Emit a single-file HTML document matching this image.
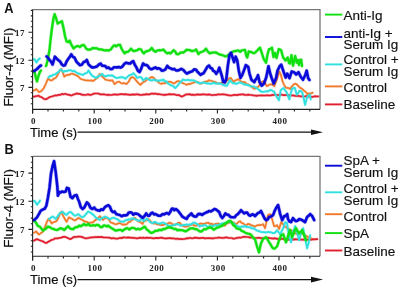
<!DOCTYPE html>
<html><head><meta charset="utf-8"><style>
html,body{margin:0;padding:0;background:#fff;width:400px;height:289px;overflow:hidden}
svg{display:block;filter:blur(0.4px)}
text{font-family:"Liberation Sans",sans-serif;fill:#111}
.tl{font-family:"Liberation Serif",serif;font-size:9px;font-weight:bold;fill:#222;letter-spacing:0.5px}
.pl{font-size:14px;font-weight:bold}
.al{font-size:13px;stroke:#111;stroke-width:0.2px}
.lg{font-size:13.5px;stroke:#111;stroke-width:0.15px}
</style></head><body>
<svg width="400" height="289" viewBox="0 0 400 289">
<rect width="400" height="289" fill="#fff"/>
<path d="M32.6 9.6H320.0V109.4" fill="none" stroke="#777" stroke-width="1.3"/>
<path d="M33.5 96.7 L35.2 96.4 L36.9 96.0 L38.6 95.7 L40.2 96.7 L41.9 97.3 L43.6 98.7 L45.2 99.3 L46.7 98.9 L48.1 98.1 L49.5 97.1 L51.0 96.7 L52.5 96.3 L54.0 95.8 L55.6 95.4 L57.1 95.5 L58.6 94.8 L60.2 94.9 L61.9 93.9 L63.6 94.3 L65.2 93.8 L66.7 94.3 L68.1 94.6 L69.5 94.9 L71.0 95.5 L72.4 95.1 L73.8 94.4 L75.3 94.1 L76.7 93.4 L78.3 93.9 L80.0 93.8 L81.7 94.7 L83.3 94.8 L84.9 95.0 L86.5 94.8 L88.1 94.2 L89.7 95.0 L91.5 94.7 L93.2 93.9 L95.0 93.5 L96.7 93.5 L98.5 93.5 L100.3 94.4 L102.1 94.3 L103.7 94.3 L105.2 94.5 L106.8 95.0 L108.3 94.7 L109.9 95.0 L111.5 94.9 L113.0 94.7 L114.6 94.3 L116.2 94.6 L117.7 94.7 L119.3 94.3 L120.8 94.1 L122.4 94.2 L123.9 94.4 L125.5 94.1 L127.0 94.5 L128.6 94.6 L130.2 94.8 L131.7 94.6 L133.3 94.4 L134.8 94.6 L136.4 94.3 L138.2 94.4 L140.0 95.0 L141.6 94.9 L143.1 94.6 L144.7 94.7 L146.2 94.1 L147.8 94.3 L149.4 94.4 L150.9 93.7 L152.5 93.6 L154.0 93.9 L155.6 93.5 L157.2 94.2 L158.7 94.0 L160.3 94.3 L161.8 94.5 L163.4 95.0 L165.0 94.7 L166.5 94.8 L168.1 94.3 L169.6 94.1 L171.2 94.3 L172.7 94.4 L174.3 94.3 L175.8 94.8 L177.4 95.1 L178.9 95.0 L180.4 96.0 L182.0 96.6 L183.6 95.8 L185.1 94.9 L186.7 94.3 L188.3 94.4 L189.8 94.2 L191.4 94.9 L192.9 94.7 L194.5 95.0 L196.1 94.7 L197.8 94.4 L199.4 94.6 L201.0 94.6 L202.7 94.3 L204.3 94.3 L205.9 94.7 L207.4 94.7 L209.0 94.4 L210.6 94.8 L212.1 95.2 L213.7 95.0 L215.2 94.9 L216.8 94.8 L218.3 94.3 L219.9 94.5 L221.4 94.4 L223.0 94.3 L224.6 94.5 L226.1 94.7 L227.7 95.1 L229.2 95.3 L230.8 95.5 L232.4 95.3 L233.9 94.9 L235.5 94.9 L237.0 95.2 L238.6 94.6 L240.2 94.6 L241.7 94.4 L243.3 94.4 L244.8 94.9 L246.4 95.0 L248.1 94.7 L249.8 94.9 L251.6 95.0 L253.3 95.4 L255.0 95.5 L256.7 95.9 L258.3 95.5 L260.0 95.5 L261.7 95.4 L263.3 95.5 L265.0 95.5 L266.7 95.3 L268.3 95.4 L270.0 95.5 L271.7 95.2 L273.3 94.9 L275.0 94.8 L276.7 95.0 L278.3 95.2 L280.0 94.6 L281.7 94.7 L283.3 95.1 L285.0 95.1 L286.7 95.1 L288.3 95.1 L290.0 95.1 L291.7 95.5 L293.3 95.4 L295.0 95.8 L296.7 96.0 L298.3 95.8 L300.0 96.3 L301.7 96.3 L303.3 96.6 L305.0 96.4 L306.6 96.0 L308.3 96.7 L309.9 96.6 L311.6 96.8 L313.2 96.8 L314.9 96.2 L316.6 96.5 L318.2 96.4" fill="none" stroke="#e01e2e" stroke-opacity="0.3" stroke-width="2.9" stroke-linejoin="round" stroke-linecap="round"/><path d="M33.5 96.7 L35.2 96.4 L36.9 96.0 L38.6 95.7 L40.2 96.7 L41.9 97.3 L43.6 98.7 L45.2 99.3 L46.7 98.9 L48.1 98.1 L49.5 97.1 L51.0 96.7 L52.5 96.3 L54.0 95.8 L55.6 95.4 L57.1 95.5 L58.6 94.8 L60.2 94.9 L61.9 93.9 L63.6 94.3 L65.2 93.8 L66.7 94.3 L68.1 94.6 L69.5 94.9 L71.0 95.5 L72.4 95.1 L73.8 94.4 L75.3 94.1 L76.7 93.4 L78.3 93.9 L80.0 93.8 L81.7 94.7 L83.3 94.8 L84.9 95.0 L86.5 94.8 L88.1 94.2 L89.7 95.0 L91.5 94.7 L93.2 93.9 L95.0 93.5 L96.7 93.5 L98.5 93.5 L100.3 94.4 L102.1 94.3 L103.7 94.3 L105.2 94.5 L106.8 95.0 L108.3 94.7 L109.9 95.0 L111.5 94.9 L113.0 94.7 L114.6 94.3 L116.2 94.6 L117.7 94.7 L119.3 94.3 L120.8 94.1 L122.4 94.2 L123.9 94.4 L125.5 94.1 L127.0 94.5 L128.6 94.6 L130.2 94.8 L131.7 94.6 L133.3 94.4 L134.8 94.6 L136.4 94.3 L138.2 94.4 L140.0 95.0 L141.6 94.9 L143.1 94.6 L144.7 94.7 L146.2 94.1 L147.8 94.3 L149.4 94.4 L150.9 93.7 L152.5 93.6 L154.0 93.9 L155.6 93.5 L157.2 94.2 L158.7 94.0 L160.3 94.3 L161.8 94.5 L163.4 95.0 L165.0 94.7 L166.5 94.8 L168.1 94.3 L169.6 94.1 L171.2 94.3 L172.7 94.4 L174.3 94.3 L175.8 94.8 L177.4 95.1 L178.9 95.0 L180.4 96.0 L182.0 96.6 L183.6 95.8 L185.1 94.9 L186.7 94.3 L188.3 94.4 L189.8 94.2 L191.4 94.9 L192.9 94.7 L194.5 95.0 L196.1 94.7 L197.8 94.4 L199.4 94.6 L201.0 94.6 L202.7 94.3 L204.3 94.3 L205.9 94.7 L207.4 94.7 L209.0 94.4 L210.6 94.8 L212.1 95.2 L213.7 95.0 L215.2 94.9 L216.8 94.8 L218.3 94.3 L219.9 94.5 L221.4 94.4 L223.0 94.3 L224.6 94.5 L226.1 94.7 L227.7 95.1 L229.2 95.3 L230.8 95.5 L232.4 95.3 L233.9 94.9 L235.5 94.9 L237.0 95.2 L238.6 94.6 L240.2 94.6 L241.7 94.4 L243.3 94.4 L244.8 94.9 L246.4 95.0 L248.1 94.7 L249.8 94.9 L251.6 95.0 L253.3 95.4 L255.0 95.5 L256.7 95.9 L258.3 95.5 L260.0 95.5 L261.7 95.4 L263.3 95.5 L265.0 95.5 L266.7 95.3 L268.3 95.4 L270.0 95.5 L271.7 95.2 L273.3 94.9 L275.0 94.8 L276.7 95.0 L278.3 95.2 L280.0 94.6 L281.7 94.7 L283.3 95.1 L285.0 95.1 L286.7 95.1 L288.3 95.1 L290.0 95.1 L291.7 95.5 L293.3 95.4 L295.0 95.8 L296.7 96.0 L298.3 95.8 L300.0 96.3 L301.7 96.3 L303.3 96.6 L305.0 96.4 L306.6 96.0 L308.3 96.7 L309.9 96.6 L311.6 96.8 L313.2 96.8 L314.9 96.2 L316.6 96.5 L318.2 96.4" fill="none" stroke="#e01e2e" stroke-width="1.7" stroke-linejoin="round" stroke-linecap="round"/>
<path d="M33.5 90.5 L34.9 90.3 L36.2 89.0 L37.8 90.8 L39.3 92.1 L40.9 91.3 L42.5 89.8 L44.0 87.7 L45.6 84.5 L46.9 81.2 L48.1 78.6 L49.5 79.7 L51.0 80.5 L52.4 80.1 L53.8 78.6 L55.2 78.2 L56.7 76.7 L58.1 74.0 L59.5 71.0 L61.4 69.0 L62.8 72.4 L64.3 76.7 L65.7 75.6 L67.1 74.8 L69.0 75.0 L71.0 73.8 L72.9 73.7 L74.8 74.8 L76.7 75.5 L78.6 76.7 L80.5 78.7 L82.4 79.5 L84.3 79.9 L86.2 80.5 L87.8 80.2 L89.5 80.8 L91.1 80.3 L92.7 81.0 L94.3 80.2 L95.9 78.8 L97.5 77.9 L99.8 74.0 L102.1 76.4 L103.7 77.8 L105.2 79.5 L106.8 80.0 L108.4 80.2 L110.3 80.6 L112.3 80.2 L114.6 84.1 L116.2 82.9 L117.7 81.8 L119.3 81.7 L120.8 83.0 L122.4 83.4 L124.3 83.1 L126.3 84.1 L128.6 81.8 L130.1 78.9 L131.7 77.1 L133.2 77.5 L134.8 78.7 L136.4 80.9 L138.0 82.6 L140.3 84.9 L142.6 82.6 L143.8 81.7 L145.0 81.5 L147.0 79.5 L148.8 79.0 L150.7 77.4 L152.5 77.1 L154.1 78.1 L155.6 80.2 L157.1 80.6 L158.7 82.6 L160.2 83.4 L161.8 83.9 L163.3 83.0 L164.9 83.4 L166.7 82.5 L168.6 81.7 L170.4 81.8 L172.4 82.8 L174.3 83.4 L175.8 82.3 L177.4 81.3 L178.9 81.0 L180.5 82.0 L182.0 82.7 L183.6 83.4 L185.1 84.1 L186.7 84.9 L188.3 83.9 L189.8 84.1 L191.4 83.4 L193.0 82.9 L194.5 82.2 L196.1 81.8 L197.9 82.1 L199.7 83.4 L201.2 83.5 L202.8 82.8 L204.3 81.8 L205.9 81.5 L207.4 81.4 L209.0 80.2 L210.6 80.8 L212.1 81.0 L213.7 81.8 L215.3 81.8 L216.8 83.0 L218.4 83.4 L219.9 83.2 L221.5 82.8 L223.0 82.6 L224.6 82.5 L226.1 81.5 L227.7 80.2 L229.2 78.5 L230.8 77.9 L232.4 80.4 L233.9 81.8 L235.3 80.2 L236.6 80.2 L238.0 79.1 L239.5 80.0 L241.0 81.5 L242.8 82.1 L244.7 82.1 L246.5 83.9 L248.3 84.5 L250.2 85.8 L252.0 87.0 L253.5 88.3 L255.0 88.8 L256.5 87.3 L258.0 87.0 L259.9 84.8 L261.7 82.1 L262.9 81.3 L264.1 81.5 L265.5 83.8 L266.8 86.2 L268.7 85.0 L270.6 84.3 L272.5 84.7 L274.3 86.2 L276.1 81.4 L278.0 76.0 L279.3 71.5 L280.8 74.5 L282.7 82.0 L285.0 86.5 L286.4 88.0 L288.3 87.9 L290.2 89.0 L292.0 86.3 L293.9 84.3 L295.3 83.7 L296.7 84.3 L298.6 86.4 L300.5 88.0 L302.4 89.1 L304.2 90.8 L306.0 92.1 L307.9 94.6 L309.3 93.4 L310.7 93.6 L312.6 92.7" fill="none" stroke="#f07828" stroke-opacity="0.3" stroke-width="2.8" stroke-linejoin="round" stroke-linecap="round"/><path d="M33.5 90.5 L34.9 90.3 L36.2 89.0 L37.8 90.8 L39.3 92.1 L40.9 91.3 L42.5 89.8 L44.0 87.7 L45.6 84.5 L46.9 81.2 L48.1 78.6 L49.5 79.7 L51.0 80.5 L52.4 80.1 L53.8 78.6 L55.2 78.2 L56.7 76.7 L58.1 74.0 L59.5 71.0 L61.4 69.0 L62.8 72.4 L64.3 76.7 L65.7 75.6 L67.1 74.8 L69.0 75.0 L71.0 73.8 L72.9 73.7 L74.8 74.8 L76.7 75.5 L78.6 76.7 L80.5 78.7 L82.4 79.5 L84.3 79.9 L86.2 80.5 L87.8 80.2 L89.5 80.8 L91.1 80.3 L92.7 81.0 L94.3 80.2 L95.9 78.8 L97.5 77.9 L99.8 74.0 L102.1 76.4 L103.7 77.8 L105.2 79.5 L106.8 80.0 L108.4 80.2 L110.3 80.6 L112.3 80.2 L114.6 84.1 L116.2 82.9 L117.7 81.8 L119.3 81.7 L120.8 83.0 L122.4 83.4 L124.3 83.1 L126.3 84.1 L128.6 81.8 L130.1 78.9 L131.7 77.1 L133.2 77.5 L134.8 78.7 L136.4 80.9 L138.0 82.6 L140.3 84.9 L142.6 82.6 L143.8 81.7 L145.0 81.5 L147.0 79.5 L148.8 79.0 L150.7 77.4 L152.5 77.1 L154.1 78.1 L155.6 80.2 L157.1 80.6 L158.7 82.6 L160.2 83.4 L161.8 83.9 L163.3 83.0 L164.9 83.4 L166.7 82.5 L168.6 81.7 L170.4 81.8 L172.4 82.8 L174.3 83.4 L175.8 82.3 L177.4 81.3 L178.9 81.0 L180.5 82.0 L182.0 82.7 L183.6 83.4 L185.1 84.1 L186.7 84.9 L188.3 83.9 L189.8 84.1 L191.4 83.4 L193.0 82.9 L194.5 82.2 L196.1 81.8 L197.9 82.1 L199.7 83.4 L201.2 83.5 L202.8 82.8 L204.3 81.8 L205.9 81.5 L207.4 81.4 L209.0 80.2 L210.6 80.8 L212.1 81.0 L213.7 81.8 L215.3 81.8 L216.8 83.0 L218.4 83.4 L219.9 83.2 L221.5 82.8 L223.0 82.6 L224.6 82.5 L226.1 81.5 L227.7 80.2 L229.2 78.5 L230.8 77.9 L232.4 80.4 L233.9 81.8 L235.3 80.2 L236.6 80.2 L238.0 79.1 L239.5 80.0 L241.0 81.5 L242.8 82.1 L244.7 82.1 L246.5 83.9 L248.3 84.5 L250.2 85.8 L252.0 87.0 L253.5 88.3 L255.0 88.8 L256.5 87.3 L258.0 87.0 L259.9 84.8 L261.7 82.1 L262.9 81.3 L264.1 81.5 L265.5 83.8 L266.8 86.2 L268.7 85.0 L270.6 84.3 L272.5 84.7 L274.3 86.2 L276.1 81.4 L278.0 76.0 L279.3 71.5 L280.8 74.5 L282.7 82.0 L285.0 86.5 L286.4 88.0 L288.3 87.9 L290.2 89.0 L292.0 86.3 L293.9 84.3 L295.3 83.7 L296.7 84.3 L298.6 86.4 L300.5 88.0 L302.4 89.1 L304.2 90.8 L306.0 92.1 L307.9 94.6 L309.3 93.4 L310.7 93.6 L312.6 92.7" fill="none" stroke="#f07828" stroke-width="1.6" stroke-linejoin="round" stroke-linecap="round"/>
<path d="M34.0 59.0 L35.0 60.0 L36.5 62.5 L38.0 60.0 L39.8 58.5M48.5 77.5 L50.0 76.0 L51.5 76.0 L53.2 74.7 L54.9 74.6 L56.5 73.3 L58.0 72.3 L59.2 71.2 L60.5 69.5 L61.9 70.2 L63.3 71.9 L65.2 70.9 L67.1 71.0 L69.0 70.2 L71.0 70.3 L72.6 71.2 L74.1 70.8 L75.7 71.9 L77.6 73.2 L79.5 73.8 L81.4 74.5 L83.3 74.8 L85.2 73.3 L87.1 72.9 L88.5 70.5 L90.2 73.1 L92.0 75.6 L94.0 76.7 L95.9 77.9 L97.8 76.6 L99.8 75.6 L102.1 74.0 L104.0 75.9 L106.0 76.4 L108.0 75.4 L109.9 75.6 L111.8 75.3 L113.8 76.4 L115.8 77.8 L117.7 77.9 L119.7 77.4 L121.6 77.1 L123.5 77.4 L125.5 78.7 L127.1 77.1 L128.6 75.9 L130.2 74.8 L131.8 74.7 L133.3 73.2 L135.2 75.1 L137.2 77.9 L139.1 77.1 L141.1 77.1 L143.1 80.2 L144.6 79.2 L146.2 77.9 L148.1 79.1 L150.1 80.2 L152.1 80.5 L154.0 79.5 L155.6 80.5 L157.1 80.3 L158.7 81.0 L160.3 80.1 L161.8 80.5 L163.4 79.5 L164.9 81.5 L166.5 81.4 L168.0 83.4 L169.6 84.5 L171.1 85.5 L172.7 85.7 L175.0 88.0 L176.6 86.7 L178.2 84.9 L179.7 82.7 L181.3 81.7 L182.8 79.5 L184.8 80.2 L186.7 80.2 L188.3 79.7 L189.8 80.4 L191.4 80.2 L193.0 80.3 L194.5 80.6 L196.1 81.8 L197.9 82.4 L199.7 83.4 L201.2 82.9 L202.8 82.7 L204.3 82.6 L205.9 83.1 L207.4 83.6 L209.0 83.4 L210.6 83.8 L212.1 83.6 L213.7 82.6 L215.3 83.6 L216.8 83.6 L218.4 83.4 L219.9 83.6 L221.5 83.9 L223.0 84.9 L224.9 85.5 L226.9 85.7 L228.4 83.0 L230.0 80.2 L231.6 82.1 L233.2 83.4 L234.8 83.1 L236.3 84.0 L238.6 82.7 L240.4 82.5 L242.3 83.3 L244.1 84.5 L245.9 84.5 L247.1 85.0 L248.3 85.2 L250.2 86.1 L252.0 86.4 L253.8 86.4 L255.6 87.6 L257.4 88.6 L259.2 90.0 L261.0 91.5 L262.9 91.8 L264.7 91.7 L266.5 91.2 L268.4 91.3 L270.2 90.0 L271.6 90.1 L272.9 91.1 L274.3 91.8 L275.7 95.1 L277.1 97.4 L279.0 100.2 L280.8 89.9 L282.2 88.9 L283.6 88.0 L285.0 90.3 L286.4 91.8 L287.9 95.6 L289.3 99.3 L290.7 93.6 L292.1 89.0 L293.5 87.9 L294.9 88.0 L296.7 94.6 L298.1 93.4 L299.5 90.8 L300.9 91.2 L302.3 92.7 L303.7 98.3 L305.1 104.9 L307.0 97.4 L308.4 95.8 L309.8 94.6 L310.7 99.3" fill="none" stroke="#30e0e0" stroke-opacity="0.3" stroke-width="3.0" stroke-linejoin="round" stroke-linecap="round"/><path d="M34.0 59.0 L35.0 60.0 L36.5 62.5 L38.0 60.0 L39.8 58.5M48.5 77.5 L50.0 76.0 L51.5 76.0 L53.2 74.7 L54.9 74.6 L56.5 73.3 L58.0 72.3 L59.2 71.2 L60.5 69.5 L61.9 70.2 L63.3 71.9 L65.2 70.9 L67.1 71.0 L69.0 70.2 L71.0 70.3 L72.6 71.2 L74.1 70.8 L75.7 71.9 L77.6 73.2 L79.5 73.8 L81.4 74.5 L83.3 74.8 L85.2 73.3 L87.1 72.9 L88.5 70.5 L90.2 73.1 L92.0 75.6 L94.0 76.7 L95.9 77.9 L97.8 76.6 L99.8 75.6 L102.1 74.0 L104.0 75.9 L106.0 76.4 L108.0 75.4 L109.9 75.6 L111.8 75.3 L113.8 76.4 L115.8 77.8 L117.7 77.9 L119.7 77.4 L121.6 77.1 L123.5 77.4 L125.5 78.7 L127.1 77.1 L128.6 75.9 L130.2 74.8 L131.8 74.7 L133.3 73.2 L135.2 75.1 L137.2 77.9 L139.1 77.1 L141.1 77.1 L143.1 80.2 L144.6 79.2 L146.2 77.9 L148.1 79.1 L150.1 80.2 L152.1 80.5 L154.0 79.5 L155.6 80.5 L157.1 80.3 L158.7 81.0 L160.3 80.1 L161.8 80.5 L163.4 79.5 L164.9 81.5 L166.5 81.4 L168.0 83.4 L169.6 84.5 L171.1 85.5 L172.7 85.7 L175.0 88.0 L176.6 86.7 L178.2 84.9 L179.7 82.7 L181.3 81.7 L182.8 79.5 L184.8 80.2 L186.7 80.2 L188.3 79.7 L189.8 80.4 L191.4 80.2 L193.0 80.3 L194.5 80.6 L196.1 81.8 L197.9 82.4 L199.7 83.4 L201.2 82.9 L202.8 82.7 L204.3 82.6 L205.9 83.1 L207.4 83.6 L209.0 83.4 L210.6 83.8 L212.1 83.6 L213.7 82.6 L215.3 83.6 L216.8 83.6 L218.4 83.4 L219.9 83.6 L221.5 83.9 L223.0 84.9 L224.9 85.5 L226.9 85.7 L228.4 83.0 L230.0 80.2 L231.6 82.1 L233.2 83.4 L234.8 83.1 L236.3 84.0 L238.6 82.7 L240.4 82.5 L242.3 83.3 L244.1 84.5 L245.9 84.5 L247.1 85.0 L248.3 85.2 L250.2 86.1 L252.0 86.4 L253.8 86.4 L255.6 87.6 L257.4 88.6 L259.2 90.0 L261.0 91.5 L262.9 91.8 L264.7 91.7 L266.5 91.2 L268.4 91.3 L270.2 90.0 L271.6 90.1 L272.9 91.1 L274.3 91.8 L275.7 95.1 L277.1 97.4 L279.0 100.2 L280.8 89.9 L282.2 88.9 L283.6 88.0 L285.0 90.3 L286.4 91.8 L287.9 95.6 L289.3 99.3 L290.7 93.6 L292.1 89.0 L293.5 87.9 L294.9 88.0 L296.7 94.6 L298.1 93.4 L299.5 90.8 L300.9 91.2 L302.3 92.7 L303.7 98.3 L305.1 104.9 L307.0 97.4 L308.4 95.8 L309.8 94.6 L310.7 99.3" fill="none" stroke="#30e0e0" stroke-width="1.8" stroke-linejoin="round" stroke-linecap="round"/>
<path d="M33.5 71.5 L34.7 72.5 L36.2 79.0 L37.0 81.5 L38.6 75.5 L40.1 71.5 L41.0 70.5M46.0 66.0 L46.6 64.5 L48.0 58.0 L49.5 50.0 L50.5 40.0 L52.0 28.0 L53.5 18.0 L54.6 14.2 L56.0 18.0 L57.7 23.6 L59.5 22.5 L61.9 21.2 L63.5 28.0 L65.0 36.0 L66.6 41.5 L68.0 42.0 L69.7 40.7 L71.3 44.6 L73.6 48.5 L75.2 47.1 L76.7 46.2 L78.2 46.1 L79.8 47.0 L81.8 45.3 L83.7 45.0 L85.0 46.5 L86.3 48.8 L87.6 49.5 L88.8 49.7 L90.0 49.5 L91.4 49.1 L92.8 47.9 L94.4 48.3 L95.9 48.2 L97.5 48.7 L99.0 49.4 L100.6 49.4 L102.1 49.5 L103.7 50.3 L105.2 50.3 L106.8 50.2 L108.8 50.5 L110.7 49.5 L112.2 47.4 L113.8 45.6 L115.0 45.3 L116.2 46.4 L118.1 44.9 L120.0 44.8 L121.6 48.7 L123.2 51.5 L124.7 53.4 L126.2 51.9 L127.8 51.8 L129.4 50.6 L131.0 48.7 L133.3 51.0 L135.2 50.8 L137.2 50.2 L139.1 49.0 L141.1 49.5 L142.5 52.0 L143.9 53.4 L145.9 51.3 L147.8 51.0 L149.8 50.2 L151.7 47.9 L153.6 50.5 L155.6 51.8 L157.6 50.4 L159.5 50.2 L161.4 50.3 L163.4 49.5 L165.4 51.9 L167.3 53.4 L168.9 52.7 L170.4 53.4 L171.9 52.1 L173.5 50.2 L175.1 51.4 L176.6 54.1 L178.6 54.2 L180.5 52.6 L182.1 52.4 L183.6 52.5 L185.2 51.0 L186.8 49.7 L188.3 50.2 L189.9 50.1 L191.4 51.0 L193.0 51.0 L194.6 50.5 L196.1 49.5 L198.4 54.1 L200.2 52.3 L202.0 51.8 L203.9 51.0 L205.9 48.7 L207.9 51.7 L209.8 53.4 L211.8 52.6 L213.7 52.6 L215.6 52.3 L217.6 53.4 L219.6 54.5 L221.5 54.9 L223.4 55.5 L225.4 56.5 L226.9 56.0 L228.5 54.9 L230.4 53.3 L232.4 51.8 L234.4 51.2 L236.3 51.0 L238.2 50.4 L240.2 51.8 L241.8 50.3 L243.3 50.2 L245.0 50.0 L246.4 56.0 L247.2 57.5 L248.7 51.5 L250.2 51.8 L251.7 52.2 L253.2 53.1 L254.7 53.0 L257.0 50.7 L258.5 49.1 L260.0 47.7 L261.5 52.2 L263.7 59.0 L266.0 62.7 L267.5 54.5 L269.0 49.2 L270.5 48.9 L272.0 47.7 L273.5 57.0 L275.0 53.0 L276.5 58.0 L278.7 49.2 L281.0 50.0 L283.2 57.5 L285.5 60.5 L287.7 57.5 L289.0 63.0 L290.0 63.5 L291.5 55.2 L293.0 65.7 L295.2 56.0 L296.7 62.7 L298.0 60.0 L299.0 65.0 L300.2 60.0 L301.2 59.7 L302.0 66.0" fill="none" stroke="#10e010" stroke-opacity="0.3" stroke-width="3.5" stroke-linejoin="round" stroke-linecap="round"/><path d="M33.5 71.5 L34.7 72.5 L36.2 79.0 L37.0 81.5 L38.6 75.5 L40.1 71.5 L41.0 70.5M46.0 66.0 L46.6 64.5 L48.0 58.0 L49.5 50.0 L50.5 40.0 L52.0 28.0 L53.5 18.0 L54.6 14.2 L56.0 18.0 L57.7 23.6 L59.5 22.5 L61.9 21.2 L63.5 28.0 L65.0 36.0 L66.6 41.5 L68.0 42.0 L69.7 40.7 L71.3 44.6 L73.6 48.5 L75.2 47.1 L76.7 46.2 L78.2 46.1 L79.8 47.0 L81.8 45.3 L83.7 45.0 L85.0 46.5 L86.3 48.8 L87.6 49.5 L88.8 49.7 L90.0 49.5 L91.4 49.1 L92.8 47.9 L94.4 48.3 L95.9 48.2 L97.5 48.7 L99.0 49.4 L100.6 49.4 L102.1 49.5 L103.7 50.3 L105.2 50.3 L106.8 50.2 L108.8 50.5 L110.7 49.5 L112.2 47.4 L113.8 45.6 L115.0 45.3 L116.2 46.4 L118.1 44.9 L120.0 44.8 L121.6 48.7 L123.2 51.5 L124.7 53.4 L126.2 51.9 L127.8 51.8 L129.4 50.6 L131.0 48.7 L133.3 51.0 L135.2 50.8 L137.2 50.2 L139.1 49.0 L141.1 49.5 L142.5 52.0 L143.9 53.4 L145.9 51.3 L147.8 51.0 L149.8 50.2 L151.7 47.9 L153.6 50.5 L155.6 51.8 L157.6 50.4 L159.5 50.2 L161.4 50.3 L163.4 49.5 L165.4 51.9 L167.3 53.4 L168.9 52.7 L170.4 53.4 L171.9 52.1 L173.5 50.2 L175.1 51.4 L176.6 54.1 L178.6 54.2 L180.5 52.6 L182.1 52.4 L183.6 52.5 L185.2 51.0 L186.8 49.7 L188.3 50.2 L189.9 50.1 L191.4 51.0 L193.0 51.0 L194.6 50.5 L196.1 49.5 L198.4 54.1 L200.2 52.3 L202.0 51.8 L203.9 51.0 L205.9 48.7 L207.9 51.7 L209.8 53.4 L211.8 52.6 L213.7 52.6 L215.6 52.3 L217.6 53.4 L219.6 54.5 L221.5 54.9 L223.4 55.5 L225.4 56.5 L226.9 56.0 L228.5 54.9 L230.4 53.3 L232.4 51.8 L234.4 51.2 L236.3 51.0 L238.2 50.4 L240.2 51.8 L241.8 50.3 L243.3 50.2 L245.0 50.0 L246.4 56.0 L247.2 57.5 L248.7 51.5 L250.2 51.8 L251.7 52.2 L253.2 53.1 L254.7 53.0 L257.0 50.7 L258.5 49.1 L260.0 47.7 L261.5 52.2 L263.7 59.0 L266.0 62.7 L267.5 54.5 L269.0 49.2 L270.5 48.9 L272.0 47.7 L273.5 57.0 L275.0 53.0 L276.5 58.0 L278.7 49.2 L281.0 50.0 L283.2 57.5 L285.5 60.5 L287.7 57.5 L289.0 63.0 L290.0 63.5 L291.5 55.2 L293.0 65.7 L295.2 56.0 L296.7 62.7 L298.0 60.0 L299.0 65.0 L300.2 60.0 L301.2 59.7 L302.0 66.0" fill="none" stroke="#10e010" stroke-width="2.3" stroke-linejoin="round" stroke-linecap="round"/>
<path d="M34.0 71.0 L35.0 70.5 L37.0 69.0 L39.0 67.0 L40.1 66.0 L41.0 65.5M46.5 56.5 L47.1 56.7 L49.5 59.8 L51.0 61.6 L52.6 64.5 L54.9 56.7 L56.8 58.7 L58.8 60.6 L60.3 61.8 L61.9 64.5 L63.5 65.6 L65.0 65.2 L66.6 61.5 L68.2 59.0 L69.8 56.8 L71.3 54.3 L72.8 56.9 L74.4 57.5 L76.7 62.1 L78.2 63.4 L79.8 65.2 L81.8 64.7 L83.7 62.1 L85.2 61.6 L86.8 60.0 L88.5 64.3 L90.2 66.0 L92.0 67.4 L93.6 67.4 L95.1 67.1 L96.7 66.6 L98.7 64.7 L100.6 63.5 L102.2 65.8 L103.7 65.8 L105.3 66.1 L106.8 68.0 L108.4 67.4 L110.3 69.0 L112.3 68.9 L113.8 67.3 L115.4 67.3 L116.9 67.4 L118.7 67.1 L120.6 67.6 L122.4 66.6 L124.3 63.9 L126.3 62.7 L128.2 63.4 L130.2 63.5 L131.8 62.0 L133.3 61.2 L134.9 65.0 L136.4 67.4 L137.9 70.7 L139.5 72.1 L140.8 69.7 L143.1 63.5 L144.6 64.9 L146.2 65.0 L147.8 65.9 L149.3 68.2 L150.9 69.1 L152.5 68.9 L154.1 68.0 L155.6 67.4 L157.1 68.7 L158.7 68.3 L160.2 68.9 L161.8 70.6 L163.4 70.5 L165.4 69.3 L167.3 65.8 L168.9 67.7 L170.4 68.2 L172.4 69.3 L174.3 68.9 L175.9 70.4 L177.4 70.5 L179.4 69.9 L181.3 68.9 L183.2 69.8 L185.2 72.1 L186.8 73.6 L188.3 72.8 L190.2 72.0 L192.2 71.3 L194.1 69.4 L196.1 69.7 L197.3 71.7 L198.9 73.1 L200.5 74.8 L202.1 73.8 L203.6 73.2 L205.9 69.3 L207.4 66.7 L209.0 65.5 L210.6 68.1 L212.1 68.6 L213.1 70.7 L214.6 71.4 L216.2 73.8 L217.8 71.6 L219.3 67.6 L221.7 75.4 L223.2 81.6 L224.8 82.4 L226.4 78.5 L227.9 65.2 L229.5 55.1 L231.0 52.8 L232.6 57.5 L234.1 62.1 L235.7 56.7 L237.3 60.6 L238.8 70.7 L240.5 77.9 L242.3 74.8 L244.1 70.0 L245.8 65.2 L248.2 66.8 L249.5 73.6 L251.4 79.7 L252.9 81.0 L254.4 82.1 L255.0 80.5 L256.8 78.0 L258.0 75.2 L259.5 82.0 L261.7 85.7 L264.0 83.5 L266.2 77.5 L268.5 66.2 L270.0 73.0 L271.5 77.5 L273.7 83.5 L276.0 78.2 L277.5 70.7 L279.7 66.2 L281.2 64.7 L283.5 71.5 L285.7 77.5 L287.2 73.7 L289.5 78.2 L291.7 71.5 L294.0 72.2 L296.2 74.5 L298.5 72.2 L300.7 76.7 L303.0 79.7 L305.2 75.2 L306.7 70.7 L308.2 78.2 L309.5 80.0" fill="none" stroke="#0a0ad8" stroke-opacity="0.3" stroke-width="3.8" stroke-linejoin="round" stroke-linecap="round"/><path d="M34.0 71.0 L35.0 70.5 L37.0 69.0 L39.0 67.0 L40.1 66.0 L41.0 65.5M46.5 56.5 L47.1 56.7 L49.5 59.8 L51.0 61.6 L52.6 64.5 L54.9 56.7 L56.8 58.7 L58.8 60.6 L60.3 61.8 L61.9 64.5 L63.5 65.6 L65.0 65.2 L66.6 61.5 L68.2 59.0 L69.8 56.8 L71.3 54.3 L72.8 56.9 L74.4 57.5 L76.7 62.1 L78.2 63.4 L79.8 65.2 L81.8 64.7 L83.7 62.1 L85.2 61.6 L86.8 60.0 L88.5 64.3 L90.2 66.0 L92.0 67.4 L93.6 67.4 L95.1 67.1 L96.7 66.6 L98.7 64.7 L100.6 63.5 L102.2 65.8 L103.7 65.8 L105.3 66.1 L106.8 68.0 L108.4 67.4 L110.3 69.0 L112.3 68.9 L113.8 67.3 L115.4 67.3 L116.9 67.4 L118.7 67.1 L120.6 67.6 L122.4 66.6 L124.3 63.9 L126.3 62.7 L128.2 63.4 L130.2 63.5 L131.8 62.0 L133.3 61.2 L134.9 65.0 L136.4 67.4 L137.9 70.7 L139.5 72.1 L140.8 69.7 L143.1 63.5 L144.6 64.9 L146.2 65.0 L147.8 65.9 L149.3 68.2 L150.9 69.1 L152.5 68.9 L154.1 68.0 L155.6 67.4 L157.1 68.7 L158.7 68.3 L160.2 68.9 L161.8 70.6 L163.4 70.5 L165.4 69.3 L167.3 65.8 L168.9 67.7 L170.4 68.2 L172.4 69.3 L174.3 68.9 L175.9 70.4 L177.4 70.5 L179.4 69.9 L181.3 68.9 L183.2 69.8 L185.2 72.1 L186.8 73.6 L188.3 72.8 L190.2 72.0 L192.2 71.3 L194.1 69.4 L196.1 69.7 L197.3 71.7 L198.9 73.1 L200.5 74.8 L202.1 73.8 L203.6 73.2 L205.9 69.3 L207.4 66.7 L209.0 65.5 L210.6 68.1 L212.1 68.6 L213.1 70.7 L214.6 71.4 L216.2 73.8 L217.8 71.6 L219.3 67.6 L221.7 75.4 L223.2 81.6 L224.8 82.4 L226.4 78.5 L227.9 65.2 L229.5 55.1 L231.0 52.8 L232.6 57.5 L234.1 62.1 L235.7 56.7 L237.3 60.6 L238.8 70.7 L240.5 77.9 L242.3 74.8 L244.1 70.0 L245.8 65.2 L248.2 66.8 L249.5 73.6 L251.4 79.7 L252.9 81.0 L254.4 82.1 L255.0 80.5 L256.8 78.0 L258.0 75.2 L259.5 82.0 L261.7 85.7 L264.0 83.5 L266.2 77.5 L268.5 66.2 L270.0 73.0 L271.5 77.5 L273.7 83.5 L276.0 78.2 L277.5 70.7 L279.7 66.2 L281.2 64.7 L283.5 71.5 L285.7 77.5 L287.2 73.7 L289.5 78.2 L291.7 71.5 L294.0 72.2 L296.2 74.5 L298.5 72.2 L300.7 76.7 L303.0 79.7 L305.2 75.2 L306.7 70.7 L308.2 78.2 L309.5 80.0" fill="none" stroke="#0a0ad8" stroke-width="2.6" stroke-linejoin="round" stroke-linecap="round"/>
<path d="M32.6 9.6V113.60000000000001M32.6 109.4H320.0" fill="none" stroke="#222" stroke-width="1.1"/>
<path d="M30.8 103.7H32.6M30.8 98.2H32.6M30.8 92.8H32.6M28.400000000000002 87.4H32.6M30.8 82.0H32.6M30.8 76.6H32.6M30.8 71.1H32.6M30.8 65.7H32.6M28.400000000000002 60.3H32.6M30.8 54.7H32.6M30.8 49.1H32.6M30.8 43.4H32.6M30.8 37.8H32.6M28.400000000000002 32.2H32.6M30.8 26.8H32.6M30.8 21.3H32.6M30.8 15.9H32.6M30.8 10.4H32.6M32.6 109.4V113.60000000000001M48.0 109.4V111.60000000000001M63.4 109.4V111.60000000000001M78.8 109.4V111.60000000000001M94.2 109.4V113.60000000000001M109.6 109.4V111.60000000000001M125.0 109.4V111.60000000000001M140.4 109.4V111.60000000000001M155.8 109.4V113.60000000000001M171.2 109.4V111.60000000000001M186.6 109.4V111.60000000000001M202.0 109.4V111.60000000000001M217.4 109.4V113.60000000000001M232.8 109.4V111.60000000000001M248.2 109.4V111.60000000000001M263.6 109.4V111.60000000000001M279.0 109.4V113.60000000000001M294.4 109.4V111.60000000000001M309.8 109.4V111.60000000000001" fill="none" stroke="#222" stroke-width="1.1"/>
<text x="25.0" y="91.0" class="tl" text-anchor="end">7</text>
<text x="25.0" y="63.9" class="tl" text-anchor="end">12</text>
<text x="25.0" y="35.8" class="tl" text-anchor="end">17</text>
<text x="33.5" y="124.3" class="tl" text-anchor="middle">0</text>
<text x="95.0" y="124.3" class="tl" text-anchor="middle">100</text>
<text x="156.7" y="124.3" class="tl" text-anchor="middle">200</text>
<text x="218.2" y="124.3" class="tl" text-anchor="middle">300</text>
<text x="279.9" y="124.3" class="tl" text-anchor="middle">400</text>
<text transform="translate(4.2 13.1) scale(0.92 1)" class="pl">A</text>
<text transform="translate(13 67.2) rotate(-90)" text-anchor="middle" class="al" style="font-size:13.5px">Fluor-4 (MFI)</text>
<text x="30.0" y="136.8" class="al">Time (s)</text>
<path d="M77.5 132.2H313" stroke="#111" stroke-width="1.2"/>
<path d="M311 129.39999999999998L323 132.2L311 135.0Z" fill="#111"/>
<path d="M325 14.6H342.3" stroke="#10e010" stroke-width="1.9"/>
<text x="343.6" y="19.7" class="lg">Anti-Ig</text>
<path d="M325 37.0H342.3" stroke="#0a0ad8" stroke-width="1.9"/>
<text x="343.6" y="37.7" class="lg">anti-Ig +</text>
<text x="343.6" y="48.9" class="lg">Serum Ig</text>
<path d="M325 64.4H342.3" stroke="#30e0e0" stroke-width="1.9"/>
<text x="343.6" y="63.7" class="lg">Control +</text>
<text x="343.6" y="75.9" class="lg">Serum Ig</text>
<path d="M325 86.4H342.3" stroke="#f07828" stroke-width="1.9"/>
<text x="343.6" y="91.7" class="lg">Control</text>
<path d="M325 104.4H342.3" stroke="#e01e2e" stroke-width="1.9"/>
<text x="343.6" y="109.3" class="lg">Baseline</text>
<path d="M32.6 156.4H320.0V256.2" fill="none" stroke="#777" stroke-width="1.3"/>
<path d="M33.9 240.7 L35.5 239.7 L37.0 239.1 L39.0 240.0 L40.9 240.7 L42.7 241.3 L44.6 242.5 L46.4 243.0 L48.3 241.8 L50.2 240.7 L51.8 239.8 L53.3 239.5 L54.9 238.4 L56.5 238.4 L58.0 238.3 L59.6 237.9 L61.2 237.6 L63.1 236.9 L65.0 236.8 L66.6 237.5 L68.1 238.1 L69.7 239.1 L71.5 238.6 L73.4 237.2 L75.2 236.8 L76.8 237.0 L78.3 236.5 L79.9 236.6 L81.4 236.8 L82.9 237.4 L84.5 238.0 L86.0 238.4 L88.0 238.0 L90.0 237.6 L91.7 237.4 L93.3 237.3 L95.0 237.0 L96.7 237.2 L98.3 236.9 L100.0 237.1 L101.7 236.9 L103.3 237.5 L105.0 237.5 L106.7 237.5 L108.3 237.6 L110.0 237.8 L111.7 238.5 L113.3 238.0 L115.0 238.5 L116.7 238.7 L118.3 238.5 L120.0 237.8 L121.7 238.1 L123.3 237.4 L125.0 237.5 L126.7 237.7 L128.3 237.4 L130.0 237.6 L131.7 237.8 L133.3 237.8 L135.0 238.0 L136.7 238.3 L138.3 238.1 L140.0 237.6 L141.7 238.0 L143.3 237.7 L145.0 238.0 L146.7 237.7 L148.3 237.9 L150.0 237.8 L151.7 238.0 L153.3 238.3 L155.0 238.1 L156.7 237.9 L158.3 238.1 L160.0 237.8 L161.7 237.6 L163.3 238.1 L165.0 238.4 L166.7 238.4 L168.3 238.1 L170.0 238.2 L171.5 238.4 L173.0 238.3 L174.5 238.5 L176.0 239.0 L177.5 238.5 L179.0 239.2 L180.5 238.8 L182.0 239.1 L183.6 239.0 L185.2 238.8 L186.9 238.2 L188.5 238.3 L190.1 237.8 L191.8 238.3 L193.4 238.1 L195.0 237.6 L196.7 237.8 L198.3 238.1 L200.0 238.2 L201.7 237.9 L203.3 237.9 L205.0 238.4 L206.7 238.2 L208.3 238.2 L210.0 238.2 L211.7 238.3 L213.3 238.3 L215.0 238.0 L216.7 238.0 L218.3 237.5 L220.0 237.7 L221.7 237.8 L223.3 238.0 L225.0 237.6 L226.7 237.3 L228.3 238.0 L230.0 238.0 L231.7 238.0 L233.3 238.6 L235.0 238.4 L236.7 238.0 L238.3 237.7 L240.0 237.6 L241.7 237.5 L243.3 236.8 L245.0 236.8 L246.7 237.0 L248.3 237.0 L250.0 237.6 L251.7 237.2 L253.3 238.1 L255.0 238.0 L256.7 238.0 L258.3 237.8 L260.0 237.9 L261.7 238.3 L263.3 238.1 L265.0 237.8 L266.7 237.9 L268.3 237.8 L270.0 238.2 L271.7 238.3 L273.3 238.6 L275.0 238.2 L276.7 238.9 L278.3 238.8 L280.0 239.2 L281.7 238.8 L283.3 238.9 L285.0 239.3 L286.7 239.7 L288.3 239.4 L290.0 239.6 L291.7 239.5 L293.3 239.6 L295.0 239.2 L296.7 239.3 L298.3 239.4 L300.0 239.5 L301.7 239.7 L303.3 239.5 L305.0 239.7 L306.7 239.5 L308.3 239.7 L310.0 239.6 L311.5 239.6 L312.9 239.1 L314.4 239.4 L315.8 239.2 L317.3 239.2" fill="none" stroke="#e01e2e" stroke-opacity="0.3" stroke-width="2.9" stroke-linejoin="round" stroke-linecap="round"/><path d="M33.9 240.7 L35.5 239.7 L37.0 239.1 L39.0 240.0 L40.9 240.7 L42.7 241.3 L44.6 242.5 L46.4 243.0 L48.3 241.8 L50.2 240.7 L51.8 239.8 L53.3 239.5 L54.9 238.4 L56.5 238.4 L58.0 238.3 L59.6 237.9 L61.2 237.6 L63.1 236.9 L65.0 236.8 L66.6 237.5 L68.1 238.1 L69.7 239.1 L71.5 238.6 L73.4 237.2 L75.2 236.8 L76.8 237.0 L78.3 236.5 L79.9 236.6 L81.4 236.8 L82.9 237.4 L84.5 238.0 L86.0 238.4 L88.0 238.0 L90.0 237.6 L91.7 237.4 L93.3 237.3 L95.0 237.0 L96.7 237.2 L98.3 236.9 L100.0 237.1 L101.7 236.9 L103.3 237.5 L105.0 237.5 L106.7 237.5 L108.3 237.6 L110.0 237.8 L111.7 238.5 L113.3 238.0 L115.0 238.5 L116.7 238.7 L118.3 238.5 L120.0 237.8 L121.7 238.1 L123.3 237.4 L125.0 237.5 L126.7 237.7 L128.3 237.4 L130.0 237.6 L131.7 237.8 L133.3 237.8 L135.0 238.0 L136.7 238.3 L138.3 238.1 L140.0 237.6 L141.7 238.0 L143.3 237.7 L145.0 238.0 L146.7 237.7 L148.3 237.9 L150.0 237.8 L151.7 238.0 L153.3 238.3 L155.0 238.1 L156.7 237.9 L158.3 238.1 L160.0 237.8 L161.7 237.6 L163.3 238.1 L165.0 238.4 L166.7 238.4 L168.3 238.1 L170.0 238.2 L171.5 238.4 L173.0 238.3 L174.5 238.5 L176.0 239.0 L177.5 238.5 L179.0 239.2 L180.5 238.8 L182.0 239.1 L183.6 239.0 L185.2 238.8 L186.9 238.2 L188.5 238.3 L190.1 237.8 L191.8 238.3 L193.4 238.1 L195.0 237.6 L196.7 237.8 L198.3 238.1 L200.0 238.2 L201.7 237.9 L203.3 237.9 L205.0 238.4 L206.7 238.2 L208.3 238.2 L210.0 238.2 L211.7 238.3 L213.3 238.3 L215.0 238.0 L216.7 238.0 L218.3 237.5 L220.0 237.7 L221.7 237.8 L223.3 238.0 L225.0 237.6 L226.7 237.3 L228.3 238.0 L230.0 238.0 L231.7 238.0 L233.3 238.6 L235.0 238.4 L236.7 238.0 L238.3 237.7 L240.0 237.6 L241.7 237.5 L243.3 236.8 L245.0 236.8 L246.7 237.0 L248.3 237.0 L250.0 237.6 L251.7 237.2 L253.3 238.1 L255.0 238.0 L256.7 238.0 L258.3 237.8 L260.0 237.9 L261.7 238.3 L263.3 238.1 L265.0 237.8 L266.7 237.9 L268.3 237.8 L270.0 238.2 L271.7 238.3 L273.3 238.6 L275.0 238.2 L276.7 238.9 L278.3 238.8 L280.0 239.2 L281.7 238.8 L283.3 238.9 L285.0 239.3 L286.7 239.7 L288.3 239.4 L290.0 239.6 L291.7 239.5 L293.3 239.6 L295.0 239.2 L296.7 239.3 L298.3 239.4 L300.0 239.5 L301.7 239.7 L303.3 239.5 L305.0 239.7 L306.7 239.5 L308.3 239.7 L310.0 239.6 L311.5 239.6 L312.9 239.1 L314.4 239.4 L315.8 239.2 L317.3 239.2" fill="none" stroke="#e01e2e" stroke-width="1.7" stroke-linejoin="round" stroke-linecap="round"/>
<path d="M33.9 232.9 L36.2 231.4 L37.8 233.5 L39.3 234.5 L40.9 233.0 L42.5 232.1 L44.8 227.5 L47.1 221.2 L48.7 218.8 L50.2 221.1 L51.8 223.5 L53.3 222.2 L54.9 221.9 L56.5 221.0 L58.0 218.8 L59.6 214.8 L61.2 211.8 L62.8 215.1 L64.3 218.0 L66.6 221.9 L68.9 217.3 L70.5 218.2 L72.0 218.8 L73.6 219.9 L75.2 220.4 L76.8 219.1 L78.3 218.0 L79.8 218.6 L81.4 219.6 L83.2 220.5 L85.0 221.6 L87.0 221.8 L88.9 223.2 L90.8 222.5 L92.8 222.4 L94.8 220.5 L96.7 219.3 L98.2 218.1 L99.8 216.2 L101.3 218.0 L102.9 220.0 L104.8 218.3 L106.8 217.7 L108.8 219.4 L110.7 222.4 L112.7 223.0 L114.6 224.0 L116.5 224.3 L118.5 223.2 L120.5 223.3 L122.4 224.7 L124.0 224.4 L125.5 224.6 L127.1 224.0 L128.6 222.1 L130.2 221.8 L131.7 220.0 L133.2 219.4 L134.8 217.7 L136.8 220.1 L138.7 221.6 L140.6 222.3 L142.6 224.0 L143.9 221.2 L145.9 220.6 L147.8 218.8 L149.8 220.4 L151.7 222.7 L153.6 223.5 L155.6 223.5 L157.1 224.4 L158.7 224.5 L160.2 225.0 L161.8 225.1 L163.3 224.9 L164.9 224.3 L166.7 224.2 L168.6 223.0 L170.4 222.7 L171.9 224.1 L173.5 224.4 L175.0 225.0 L176.6 224.0 L178.1 222.9 L179.7 222.7 L181.3 224.5 L182.8 226.0 L184.4 226.6 L186.4 226.7 L188.3 225.8 L190.2 225.3 L192.2 224.3 L194.1 225.4 L196.1 225.8 L197.8 224.9 L199.5 223.8 L201.2 223.5 L202.9 223.9 L204.7 223.5 L206.4 223.0 L208.2 222.7 L210.0 224.0 L211.9 223.7 L213.7 225.0 L215.3 223.9 L216.8 223.7 L218.4 223.5 L219.9 224.6 L221.5 224.5 L223.1 224.7 L224.6 225.8 L226.2 224.2 L227.7 223.0 L229.2 222.9 L230.8 221.2 L232.4 222.9 L233.9 222.6 L235.5 224.3 L237.1 223.5 L238.6 221.8 L240.2 221.2 L241.7 223.0 L243.3 223.4 L244.8 225.0 L246.4 225.1 L247.9 223.9 L249.5 224.3 L251.3 225.2 L253.2 225.7 L255.0 226.6 L257.0 225.3 L259.0 225.0 L261.0 225.1 L263.0 224.1 L265.0 228.2 L266.5 221.6 L268.0 215.1 L270.1 214.1 L272.1 219.1 L274.1 226.2 L275.6 226.0 L277.1 225.2 L279.1 229.0 L281.2 222.1 L282.7 223.7 L284.2 226.2 L285.9 227.0 L287.6 228.8 L289.3 229.3 L291.1 230.3 L293.0 231.2 L294.9 233.3 L296.7 234.0 L298.6 233.3 L300.5 232.1 L302.0 233.8 L303.6 234.0 L305.1 235.2 L306.6 236.1 L308.0 237.0 L309.6 238.2 L311.2 238.2" fill="none" stroke="#f07828" stroke-opacity="0.3" stroke-width="2.8" stroke-linejoin="round" stroke-linecap="round"/><path d="M33.9 232.9 L36.2 231.4 L37.8 233.5 L39.3 234.5 L40.9 233.0 L42.5 232.1 L44.8 227.5 L47.1 221.2 L48.7 218.8 L50.2 221.1 L51.8 223.5 L53.3 222.2 L54.9 221.9 L56.5 221.0 L58.0 218.8 L59.6 214.8 L61.2 211.8 L62.8 215.1 L64.3 218.0 L66.6 221.9 L68.9 217.3 L70.5 218.2 L72.0 218.8 L73.6 219.9 L75.2 220.4 L76.8 219.1 L78.3 218.0 L79.8 218.6 L81.4 219.6 L83.2 220.5 L85.0 221.6 L87.0 221.8 L88.9 223.2 L90.8 222.5 L92.8 222.4 L94.8 220.5 L96.7 219.3 L98.2 218.1 L99.8 216.2 L101.3 218.0 L102.9 220.0 L104.8 218.3 L106.8 217.7 L108.8 219.4 L110.7 222.4 L112.7 223.0 L114.6 224.0 L116.5 224.3 L118.5 223.2 L120.5 223.3 L122.4 224.7 L124.0 224.4 L125.5 224.6 L127.1 224.0 L128.6 222.1 L130.2 221.8 L131.7 220.0 L133.2 219.4 L134.8 217.7 L136.8 220.1 L138.7 221.6 L140.6 222.3 L142.6 224.0 L143.9 221.2 L145.9 220.6 L147.8 218.8 L149.8 220.4 L151.7 222.7 L153.6 223.5 L155.6 223.5 L157.1 224.4 L158.7 224.5 L160.2 225.0 L161.8 225.1 L163.3 224.9 L164.9 224.3 L166.7 224.2 L168.6 223.0 L170.4 222.7 L171.9 224.1 L173.5 224.4 L175.0 225.0 L176.6 224.0 L178.1 222.9 L179.7 222.7 L181.3 224.5 L182.8 226.0 L184.4 226.6 L186.4 226.7 L188.3 225.8 L190.2 225.3 L192.2 224.3 L194.1 225.4 L196.1 225.8 L197.8 224.9 L199.5 223.8 L201.2 223.5 L202.9 223.9 L204.7 223.5 L206.4 223.0 L208.2 222.7 L210.0 224.0 L211.9 223.7 L213.7 225.0 L215.3 223.9 L216.8 223.7 L218.4 223.5 L219.9 224.6 L221.5 224.5 L223.1 224.7 L224.6 225.8 L226.2 224.2 L227.7 223.0 L229.2 222.9 L230.8 221.2 L232.4 222.9 L233.9 222.6 L235.5 224.3 L237.1 223.5 L238.6 221.8 L240.2 221.2 L241.7 223.0 L243.3 223.4 L244.8 225.0 L246.4 225.1 L247.9 223.9 L249.5 224.3 L251.3 225.2 L253.2 225.7 L255.0 226.6 L257.0 225.3 L259.0 225.0 L261.0 225.1 L263.0 224.1 L265.0 228.2 L266.5 221.6 L268.0 215.1 L270.1 214.1 L272.1 219.1 L274.1 226.2 L275.6 226.0 L277.1 225.2 L279.1 229.0 L281.2 222.1 L282.7 223.7 L284.2 226.2 L285.9 227.0 L287.6 228.8 L289.3 229.3 L291.1 230.3 L293.0 231.2 L294.9 233.3 L296.7 234.0 L298.6 233.3 L300.5 232.1 L302.0 233.8 L303.6 234.0 L305.1 235.2 L306.6 236.1 L308.0 237.0 L309.6 238.2 L311.2 238.2" fill="none" stroke="#f07828" stroke-width="1.6" stroke-linejoin="round" stroke-linecap="round"/>
<path d="M34.0 201.0 L34.7 200.9 L37.0 204.8 L39.3 201.7 L40.0 200.5M49.0 219.0 L50.8 217.8 L52.6 216.5 L54.2 217.6 L55.7 218.8 L57.7 216.2 L59.6 213.4 L61.2 212.4 L62.7 211.8 L64.7 213.9 L66.6 214.9 L68.5 212.8 L70.5 211.8 L72.5 213.7 L74.4 215.7 L76.3 215.3 L78.3 214.1 L80.2 215.9 L82.2 217.3 L84.1 216.3 L86.0 214.1 L88.1 211.5 L90.0 212.3 L92.0 213.8 L94.0 215.5 L95.9 217.7 L97.8 218.6 L99.8 220.0 L101.3 218.3 L102.9 217.7 L104.5 216.7 L106.0 216.9 L108.0 218.1 L109.9 219.3 L111.8 218.2 L113.8 217.7 L115.8 218.6 L117.7 219.3 L119.3 220.8 L120.8 221.6 L122.4 221.6 L124.0 221.5 L125.5 220.3 L127.1 220.0 L128.6 219.3 L130.2 219.6 L131.7 218.5 L133.6 218.5 L135.6 219.3 L137.6 220.5 L139.5 220.8 L141.1 219.3 L142.6 218.5 L143.6 221.2 L145.3 219.9 L147.0 218.8 L148.9 220.8 L150.9 222.7 L152.9 223.0 L154.8 221.9 L156.8 223.0 L158.7 223.5 L160.3 223.7 L161.8 222.7 L163.4 222.7 L165.4 223.6 L167.3 225.0 L169.2 226.0 L171.2 225.8 L172.7 225.4 L174.3 225.1 L175.8 224.3 L177.4 224.2 L178.9 224.6 L180.5 225.8 L182.1 225.4 L183.6 225.0 L185.2 225.0 L186.7 224.4 L188.3 225.0 L189.8 224.3 L191.4 224.4 L192.9 222.8 L194.5 222.7 L196.2 223.4 L198.0 224.8 L199.7 226.6 L201.2 225.6 L202.8 225.9 L204.3 225.0 L205.9 225.4 L207.4 226.8 L209.0 226.6 L210.6 225.6 L212.1 226.1 L213.7 225.8 L215.3 225.0 L216.8 225.8 L218.4 225.0 L219.9 224.3 L221.5 223.6 L223.0 223.5 L224.6 223.1 L226.1 223.0 L227.7 221.9 L229.6 221.6 L231.6 222.7 L233.6 223.4 L235.5 225.0 L237.1 226.4 L238.6 226.5 L240.2 227.4 L241.7 226.3 L243.3 227.0 L244.8 225.8 L246.4 227.0 L247.9 226.8 L249.5 227.4 L250.8 227.5 L252.0 228.5 L253.5 228.1 L255.0 229.2 L257.0 230.6 L259.0 231.2 L260.7 231.9 L262.3 232.2 L264.0 232.2 L265.7 232.5 L267.4 232.0 L269.1 232.2 L270.8 232.2 L272.4 233.0 L274.1 233.2 L275.6 232.1 L277.1 230.2 L278.6 232.2 L280.2 234.2 L281.7 231.2 L283.2 228.2 L285.2 222.1 L287.0 223.0 L289.0 236.2 L291.0 242.3 L293.0 232.2 L295.1 226.2 L297.1 232.2 L299.1 240.2 L301.1 232.2 L303.1 228.2 L305.1 238.2 L307.1 248.3 L308.8 242.3 L310.2 235.2" fill="none" stroke="#30e0e0" stroke-opacity="0.3" stroke-width="3.0" stroke-linejoin="round" stroke-linecap="round"/><path d="M34.0 201.0 L34.7 200.9 L37.0 204.8 L39.3 201.7 L40.0 200.5M49.0 219.0 L50.8 217.8 L52.6 216.5 L54.2 217.6 L55.7 218.8 L57.7 216.2 L59.6 213.4 L61.2 212.4 L62.7 211.8 L64.7 213.9 L66.6 214.9 L68.5 212.8 L70.5 211.8 L72.5 213.7 L74.4 215.7 L76.3 215.3 L78.3 214.1 L80.2 215.9 L82.2 217.3 L84.1 216.3 L86.0 214.1 L88.1 211.5 L90.0 212.3 L92.0 213.8 L94.0 215.5 L95.9 217.7 L97.8 218.6 L99.8 220.0 L101.3 218.3 L102.9 217.7 L104.5 216.7 L106.0 216.9 L108.0 218.1 L109.9 219.3 L111.8 218.2 L113.8 217.7 L115.8 218.6 L117.7 219.3 L119.3 220.8 L120.8 221.6 L122.4 221.6 L124.0 221.5 L125.5 220.3 L127.1 220.0 L128.6 219.3 L130.2 219.6 L131.7 218.5 L133.6 218.5 L135.6 219.3 L137.6 220.5 L139.5 220.8 L141.1 219.3 L142.6 218.5 L143.6 221.2 L145.3 219.9 L147.0 218.8 L148.9 220.8 L150.9 222.7 L152.9 223.0 L154.8 221.9 L156.8 223.0 L158.7 223.5 L160.3 223.7 L161.8 222.7 L163.4 222.7 L165.4 223.6 L167.3 225.0 L169.2 226.0 L171.2 225.8 L172.7 225.4 L174.3 225.1 L175.8 224.3 L177.4 224.2 L178.9 224.6 L180.5 225.8 L182.1 225.4 L183.6 225.0 L185.2 225.0 L186.7 224.4 L188.3 225.0 L189.8 224.3 L191.4 224.4 L192.9 222.8 L194.5 222.7 L196.2 223.4 L198.0 224.8 L199.7 226.6 L201.2 225.6 L202.8 225.9 L204.3 225.0 L205.9 225.4 L207.4 226.8 L209.0 226.6 L210.6 225.6 L212.1 226.1 L213.7 225.8 L215.3 225.0 L216.8 225.8 L218.4 225.0 L219.9 224.3 L221.5 223.6 L223.0 223.5 L224.6 223.1 L226.1 223.0 L227.7 221.9 L229.6 221.6 L231.6 222.7 L233.6 223.4 L235.5 225.0 L237.1 226.4 L238.6 226.5 L240.2 227.4 L241.7 226.3 L243.3 227.0 L244.8 225.8 L246.4 227.0 L247.9 226.8 L249.5 227.4 L250.8 227.5 L252.0 228.5 L253.5 228.1 L255.0 229.2 L257.0 230.6 L259.0 231.2 L260.7 231.9 L262.3 232.2 L264.0 232.2 L265.7 232.5 L267.4 232.0 L269.1 232.2 L270.8 232.2 L272.4 233.0 L274.1 233.2 L275.6 232.1 L277.1 230.2 L278.6 232.2 L280.2 234.2 L281.7 231.2 L283.2 228.2 L285.2 222.1 L287.0 223.0 L289.0 236.2 L291.0 242.3 L293.0 232.2 L295.1 226.2 L297.1 232.2 L299.1 240.2 L301.1 232.2 L303.1 228.2 L305.1 238.2 L307.1 248.3 L308.8 242.3 L310.2 235.2" fill="none" stroke="#30e0e0" stroke-width="1.8" stroke-linejoin="round" stroke-linecap="round"/>
<path d="M34.0 221.0 L34.7 221.2 L36.2 223.0 L37.8 225.9 L39.8 226.6 L41.7 229.0 L43.2 230.5 L45.6 228.9 L47.9 226.6 L50.2 227.4 L51.8 228.5 L53.4 228.9 L55.0 229.6 L56.7 230.0 L58.6 229.3 L60.5 228.1 L62.4 228.8 L64.3 230.0 L66.2 228.0 L68.1 226.2 L70.0 228.4 L71.9 229.0 L73.3 229.2 L74.8 227.6 L76.2 227.1 L77.6 227.1 L79.2 225.6 L80.8 226.3 L82.4 225.2 L83.8 224.0 L85.2 225.0 L86.7 225.2 L88.1 224.0 L90.0 225.5 L92.0 225.6 L93.6 225.1 L95.1 225.7 L96.7 224.8 L98.7 225.2 L100.6 227.1 L102.1 227.1 L103.7 225.5 L105.2 225.6 L106.8 226.5 L108.3 225.6 L109.9 227.1 L111.8 228.3 L113.8 229.5 L115.8 230.7 L117.7 230.2 L119.3 229.9 L120.8 229.9 L122.4 231.0 L124.0 229.7 L125.5 228.7 L127.5 228.1 L129.4 229.5 L131.4 227.9 L133.3 227.9 L134.9 228.5 L136.4 229.4 L138.0 228.7 L139.5 229.4 L141.1 228.8 L142.6 227.9 L144.7 226.6 L147.0 229.8 L148.6 230.7 L150.1 232.4 L151.7 232.9 L153.6 232.2 L155.6 230.6 L157.1 230.9 L158.7 230.0 L160.2 229.8 L161.8 230.0 L163.3 228.9 L164.9 229.0 L166.5 228.1 L168.0 227.4 L169.6 227.5 L171.2 227.7 L172.7 228.4 L174.3 229.0 L175.8 228.9 L177.4 230.3 L178.9 229.8 L180.5 230.1 L182.0 230.2 L183.6 230.6 L185.2 231.3 L186.7 230.8 L188.3 229.8 L189.9 228.4 L191.4 228.4 L193.0 228.2 L194.5 229.1 L196.1 229.1 L197.6 229.8 L199.7 231.4 L201.2 231.5 L202.8 230.3 L204.3 229.0 L205.9 229.4 L207.4 228.4 L209.0 227.5 L210.6 227.7 L212.1 228.1 L213.7 229.8 L215.3 228.8 L216.8 227.6 L218.4 227.5 L220.2 226.5 L222.0 225.9 L223.8 224.3 L225.4 223.4 L226.9 222.6 L228.5 221.2 L230.1 220.9 L231.6 222.0 L233.1 224.9 L234.7 225.9 L236.6 228.4 L238.6 229.0 L240.2 229.4 L241.7 231.0 L243.3 231.4 L244.9 232.5 L246.4 233.2 L248.0 233.7 L249.6 233.9 L251.1 235.0 L253.4 238.0 L255.0 239.2 L257.0 246.3 L259.0 252.3 L261.0 243.3 L263.0 239.2 L264.6 238.0 L266.1 237.2 L267.6 239.5 L269.1 242.3 L270.6 244.4 L272.1 247.3 L273.6 248.5 L275.1 248.3 L277.1 246.3 L279.1 240.2 L281.2 235.2 L283.2 234.2 L285.2 240.2 L286.0 242.3 L288.0 236.2 L290.0 230.2 L292.1 237.2 L294.1 232.2 L296.1 228.2 L297.6 231.1 L299.1 233.2 L300.6 232.0 L302.1 230.2 L304.1 235.2 L306.1 240.2" fill="none" stroke="#10e010" stroke-opacity="0.3" stroke-width="3.5" stroke-linejoin="round" stroke-linecap="round"/><path d="M34.0 221.0 L34.7 221.2 L36.2 223.0 L37.8 225.9 L39.8 226.6 L41.7 229.0 L43.2 230.5 L45.6 228.9 L47.9 226.6 L50.2 227.4 L51.8 228.5 L53.4 228.9 L55.0 229.6 L56.7 230.0 L58.6 229.3 L60.5 228.1 L62.4 228.8 L64.3 230.0 L66.2 228.0 L68.1 226.2 L70.0 228.4 L71.9 229.0 L73.3 229.2 L74.8 227.6 L76.2 227.1 L77.6 227.1 L79.2 225.6 L80.8 226.3 L82.4 225.2 L83.8 224.0 L85.2 225.0 L86.7 225.2 L88.1 224.0 L90.0 225.5 L92.0 225.6 L93.6 225.1 L95.1 225.7 L96.7 224.8 L98.7 225.2 L100.6 227.1 L102.1 227.1 L103.7 225.5 L105.2 225.6 L106.8 226.5 L108.3 225.6 L109.9 227.1 L111.8 228.3 L113.8 229.5 L115.8 230.7 L117.7 230.2 L119.3 229.9 L120.8 229.9 L122.4 231.0 L124.0 229.7 L125.5 228.7 L127.5 228.1 L129.4 229.5 L131.4 227.9 L133.3 227.9 L134.9 228.5 L136.4 229.4 L138.0 228.7 L139.5 229.4 L141.1 228.8 L142.6 227.9 L144.7 226.6 L147.0 229.8 L148.6 230.7 L150.1 232.4 L151.7 232.9 L153.6 232.2 L155.6 230.6 L157.1 230.9 L158.7 230.0 L160.2 229.8 L161.8 230.0 L163.3 228.9 L164.9 229.0 L166.5 228.1 L168.0 227.4 L169.6 227.5 L171.2 227.7 L172.7 228.4 L174.3 229.0 L175.8 228.9 L177.4 230.3 L178.9 229.8 L180.5 230.1 L182.0 230.2 L183.6 230.6 L185.2 231.3 L186.7 230.8 L188.3 229.8 L189.9 228.4 L191.4 228.4 L193.0 228.2 L194.5 229.1 L196.1 229.1 L197.6 229.8 L199.7 231.4 L201.2 231.5 L202.8 230.3 L204.3 229.0 L205.9 229.4 L207.4 228.4 L209.0 227.5 L210.6 227.7 L212.1 228.1 L213.7 229.8 L215.3 228.8 L216.8 227.6 L218.4 227.5 L220.2 226.5 L222.0 225.9 L223.8 224.3 L225.4 223.4 L226.9 222.6 L228.5 221.2 L230.1 220.9 L231.6 222.0 L233.1 224.9 L234.7 225.9 L236.6 228.4 L238.6 229.0 L240.2 229.4 L241.7 231.0 L243.3 231.4 L244.9 232.5 L246.4 233.2 L248.0 233.7 L249.6 233.9 L251.1 235.0 L253.4 238.0 L255.0 239.2 L257.0 246.3 L259.0 252.3 L261.0 243.3 L263.0 239.2 L264.6 238.0 L266.1 237.2 L267.6 239.5 L269.1 242.3 L270.6 244.4 L272.1 247.3 L273.6 248.5 L275.1 248.3 L277.1 246.3 L279.1 240.2 L281.2 235.2 L283.2 234.2 L285.2 240.2 L286.0 242.3 L288.0 236.2 L290.0 230.2 L292.1 237.2 L294.1 232.2 L296.1 228.2 L297.6 231.1 L299.1 233.2 L300.6 232.0 L302.1 230.2 L304.1 235.2 L306.1 240.2" fill="none" stroke="#10e010" stroke-width="2.3" stroke-linejoin="round" stroke-linecap="round"/>
<path d="M34.0 220.0 L34.7 219.6 L37.0 217.3 L39.3 213.4 L40.5 211.0 L41.7 210.2 L43.2 209.3 L44.8 208.7 L46.4 205.6 L47.9 197.8 L49.5 188.0 L51.0 173.7 L52.6 165.9 L54.1 161.2 L55.7 172.1 L57.3 186.2 L57.9 195.7 L59.5 192.0 L60.8 192.4 L62.0 191.5 L63.9 192.0 L65.7 191.5 L66.9 187.9 L68.7 188.5 L70.6 196.9 L72.4 198.1 L74.2 195.7 L76.6 195.1 L77.8 198.7 L79.0 201.2 L80.8 207.2 L82.6 209.0 L84.5 207.2 L85.7 204.6 L86.9 202.4 L88.7 204.2 L90.5 207.8 L92.3 209.0 L94.3 207.6 L95.5 209.4 L96.7 209.9 L98.2 210.4 L99.8 210.7 L101.3 209.3 L102.9 209.9 L105.2 206.8 L106.8 205.9 L108.4 205.2 L110.0 206.9 L111.5 210.7 L113.0 212.1 L114.6 211.5 L116.2 214.1 L117.7 214.6 L119.7 215.0 L121.6 216.2 L123.5 215.4 L125.5 215.4 L127.1 215.0 L128.6 212.7 L130.2 212.3 L131.8 212.7 L133.3 214.6 L135.2 213.5 L137.2 213.8 L138.8 214.6 L140.3 216.2 L142.6 217.7 L143.5 217.3 L144.8 215.6 L146.2 213.4 L147.8 215.6 L149.3 215.7 L150.9 213.5 L152.5 212.6 L154.1 214.4 L155.6 214.1 L157.1 215.0 L158.7 215.7 L160.6 215.8 L162.6 214.1 L164.1 214.5 L165.7 213.4 L167.2 213.0 L168.8 214.1 L170.4 211.7 L171.9 208.7 L173.1 208.6 L174.3 210.2 L175.9 209.1 L177.4 210.2 L178.9 211.9 L180.5 214.1 L182.1 216.3 L183.6 217.3 L185.1 218.2 L186.7 218.8 L187.9 216.5 L189.1 215.7 L191.4 213.4 L192.9 215.7 L194.5 216.5 L196.1 216.7 L197.6 214.9 L198.1 214.1 L200.1 213.9 L202.0 214.9 L203.9 213.6 L205.9 212.6 L207.4 212.1 L209.0 211.0 L210.9 211.5 L212.9 210.2 L214.4 209.0 L216.0 209.5 L217.6 210.8 L219.1 211.8 L220.7 216.0 L222.3 218.0 L223.9 216.0 L225.4 213.4 L226.9 214.6 L228.5 214.9 L230.1 216.7 L231.6 217.3 L233.1 217.3 L234.7 217.3 L236.2 215.2 L237.8 214.1 L239.4 212.4 L241.0 210.2 L242.6 211.9 L244.1 213.4 L245.6 212.6 L247.2 212.6 L248.8 215.0 L250.3 215.7 L251.6 214.7 L252.8 214.3 L255.0 216.1 L256.5 214.5 L258.0 213.0 L259.5 212.6 L261.0 211.0 L263.0 215.1 L264.5 218.3 L266.0 220.1 L267.6 219.5 L269.1 217.1 L271.1 216.4 L273.1 215.1 L274.6 211.0 L276.1 208.0 L278.1 205.0 L280.2 214.1 L282.2 220.1 L284.2 216.1 L285.7 215.9 L287.2 214.1 L288.0 219.1 L289.5 221.5 L291.0 222.1 L293.0 218.1 L294.6 220.1 L296.1 221.1 L297.6 220.7 L299.1 219.1 L300.6 219.6 L302.1 220.1 L303.6 221.1 L305.1 222.1 L307.1 217.1 L308.6 215.8 L310.2 214.1 L312.2 216.1 L314.2 220.1" fill="none" stroke="#0a0ad8" stroke-opacity="0.3" stroke-width="3.8" stroke-linejoin="round" stroke-linecap="round"/><path d="M34.0 220.0 L34.7 219.6 L37.0 217.3 L39.3 213.4 L40.5 211.0 L41.7 210.2 L43.2 209.3 L44.8 208.7 L46.4 205.6 L47.9 197.8 L49.5 188.0 L51.0 173.7 L52.6 165.9 L54.1 161.2 L55.7 172.1 L57.3 186.2 L57.9 195.7 L59.5 192.0 L60.8 192.4 L62.0 191.5 L63.9 192.0 L65.7 191.5 L66.9 187.9 L68.7 188.5 L70.6 196.9 L72.4 198.1 L74.2 195.7 L76.6 195.1 L77.8 198.7 L79.0 201.2 L80.8 207.2 L82.6 209.0 L84.5 207.2 L85.7 204.6 L86.9 202.4 L88.7 204.2 L90.5 207.8 L92.3 209.0 L94.3 207.6 L95.5 209.4 L96.7 209.9 L98.2 210.4 L99.8 210.7 L101.3 209.3 L102.9 209.9 L105.2 206.8 L106.8 205.9 L108.4 205.2 L110.0 206.9 L111.5 210.7 L113.0 212.1 L114.6 211.5 L116.2 214.1 L117.7 214.6 L119.7 215.0 L121.6 216.2 L123.5 215.4 L125.5 215.4 L127.1 215.0 L128.6 212.7 L130.2 212.3 L131.8 212.7 L133.3 214.6 L135.2 213.5 L137.2 213.8 L138.8 214.6 L140.3 216.2 L142.6 217.7 L143.5 217.3 L144.8 215.6 L146.2 213.4 L147.8 215.6 L149.3 215.7 L150.9 213.5 L152.5 212.6 L154.1 214.4 L155.6 214.1 L157.1 215.0 L158.7 215.7 L160.6 215.8 L162.6 214.1 L164.1 214.5 L165.7 213.4 L167.2 213.0 L168.8 214.1 L170.4 211.7 L171.9 208.7 L173.1 208.6 L174.3 210.2 L175.9 209.1 L177.4 210.2 L178.9 211.9 L180.5 214.1 L182.1 216.3 L183.6 217.3 L185.1 218.2 L186.7 218.8 L187.9 216.5 L189.1 215.7 L191.4 213.4 L192.9 215.7 L194.5 216.5 L196.1 216.7 L197.6 214.9 L198.1 214.1 L200.1 213.9 L202.0 214.9 L203.9 213.6 L205.9 212.6 L207.4 212.1 L209.0 211.0 L210.9 211.5 L212.9 210.2 L214.4 209.0 L216.0 209.5 L217.6 210.8 L219.1 211.8 L220.7 216.0 L222.3 218.0 L223.9 216.0 L225.4 213.4 L226.9 214.6 L228.5 214.9 L230.1 216.7 L231.6 217.3 L233.1 217.3 L234.7 217.3 L236.2 215.2 L237.8 214.1 L239.4 212.4 L241.0 210.2 L242.6 211.9 L244.1 213.4 L245.6 212.6 L247.2 212.6 L248.8 215.0 L250.3 215.7 L251.6 214.7 L252.8 214.3 L255.0 216.1 L256.5 214.5 L258.0 213.0 L259.5 212.6 L261.0 211.0 L263.0 215.1 L264.5 218.3 L266.0 220.1 L267.6 219.5 L269.1 217.1 L271.1 216.4 L273.1 215.1 L274.6 211.0 L276.1 208.0 L278.1 205.0 L280.2 214.1 L282.2 220.1 L284.2 216.1 L285.7 215.9 L287.2 214.1 L288.0 219.1 L289.5 221.5 L291.0 222.1 L293.0 218.1 L294.6 220.1 L296.1 221.1 L297.6 220.7 L299.1 219.1 L300.6 219.6 L302.1 220.1 L303.6 221.1 L305.1 222.1 L307.1 217.1 L308.6 215.8 L310.2 214.1 L312.2 216.1 L314.2 220.1" fill="none" stroke="#0a0ad8" stroke-width="2.6" stroke-linejoin="round" stroke-linecap="round"/>
<path d="M32.6 156.4V260.4M32.6 256.2H320.0" fill="none" stroke="#222" stroke-width="1.1"/>
<path d="M30.8 252.0H32.6M30.8 246.3H32.6M30.8 240.7H32.6M30.8 235.0H32.6M28.400000000000002 229.4H32.6M30.8 223.8H32.6M30.8 218.1H32.6M30.8 212.5H32.6M30.8 206.8H32.6M28.400000000000002 201.2H32.6M30.8 195.6H32.6M30.8 189.9H32.6M30.8 184.3H32.6M30.8 178.7H32.6M28.400000000000002 173.1H32.6M30.8 167.6H32.6M30.8 162.2H32.6M30.8 156.7H32.6M32.6 256.2V260.4M48.0 256.2V258.4M63.4 256.2V258.4M78.8 256.2V258.4M94.2 256.2V260.4M109.6 256.2V258.4M125.0 256.2V258.4M140.4 256.2V258.4M155.8 256.2V260.4M171.2 256.2V258.4M186.6 256.2V258.4M202.0 256.2V258.4M217.4 256.2V260.4M232.8 256.2V258.4M248.2 256.2V258.4M263.6 256.2V258.4M279.0 256.2V260.4M294.4 256.2V258.4M309.8 256.2V258.4" fill="none" stroke="#222" stroke-width="1.1"/>
<text x="25.0" y="233.0" class="tl" text-anchor="end">7</text>
<text x="25.0" y="204.8" class="tl" text-anchor="end">12</text>
<text x="25.0" y="176.7" class="tl" text-anchor="end">17</text>
<text x="33.5" y="271.0" class="tl" text-anchor="middle">0</text>
<text x="95.0" y="271.0" class="tl" text-anchor="middle">100</text>
<text x="156.7" y="271.0" class="tl" text-anchor="middle">200</text>
<text x="218.2" y="271.0" class="tl" text-anchor="middle">300</text>
<text x="279.9" y="271.0" class="tl" text-anchor="middle">400</text>
<text transform="translate(4.6 154.0) scale(0.92 1)" class="pl">B</text>
<text transform="translate(13 208.4) rotate(-90)" text-anchor="middle" class="al" style="font-size:13.5px">Fluor-4 (MFI)</text>
<text x="30.0" y="283.9" class="al">Time (s)</text>
<path d="M77.5 279.6H313" stroke="#111" stroke-width="1.2"/>
<path d="M311 276.8L323 279.6L311 282.40000000000003Z" fill="#111"/>
<path d="M325 165.7H342.3" stroke="#0a0ad8" stroke-width="1.9"/>
<text x="343.6" y="165.1" class="lg">SpA +</text>
<text x="343.6" y="176.8" class="lg">Serum Ig</text>
<path d="M325 192.3H342.3" stroke="#30e0e0" stroke-width="1.9"/>
<text x="343.6" y="192.6" class="lg">Control +</text>
<text x="343.6" y="204.8" class="lg">Serum Ig</text>
<path d="M325 214.2H342.3" stroke="#f07828" stroke-width="1.9"/>
<text x="343.6" y="220.5" class="lg">Control</text>
<path d="M325 233.1H342.3" stroke="#10e010" stroke-width="1.9"/>
<text x="343.6" y="237.5" class="lg">SpA</text>
<path d="M325 250.5H342.3" stroke="#e01e2e" stroke-width="1.9"/>
<text x="343.6" y="256.1" class="lg">Baseline</text>
</svg>
</body></html>
